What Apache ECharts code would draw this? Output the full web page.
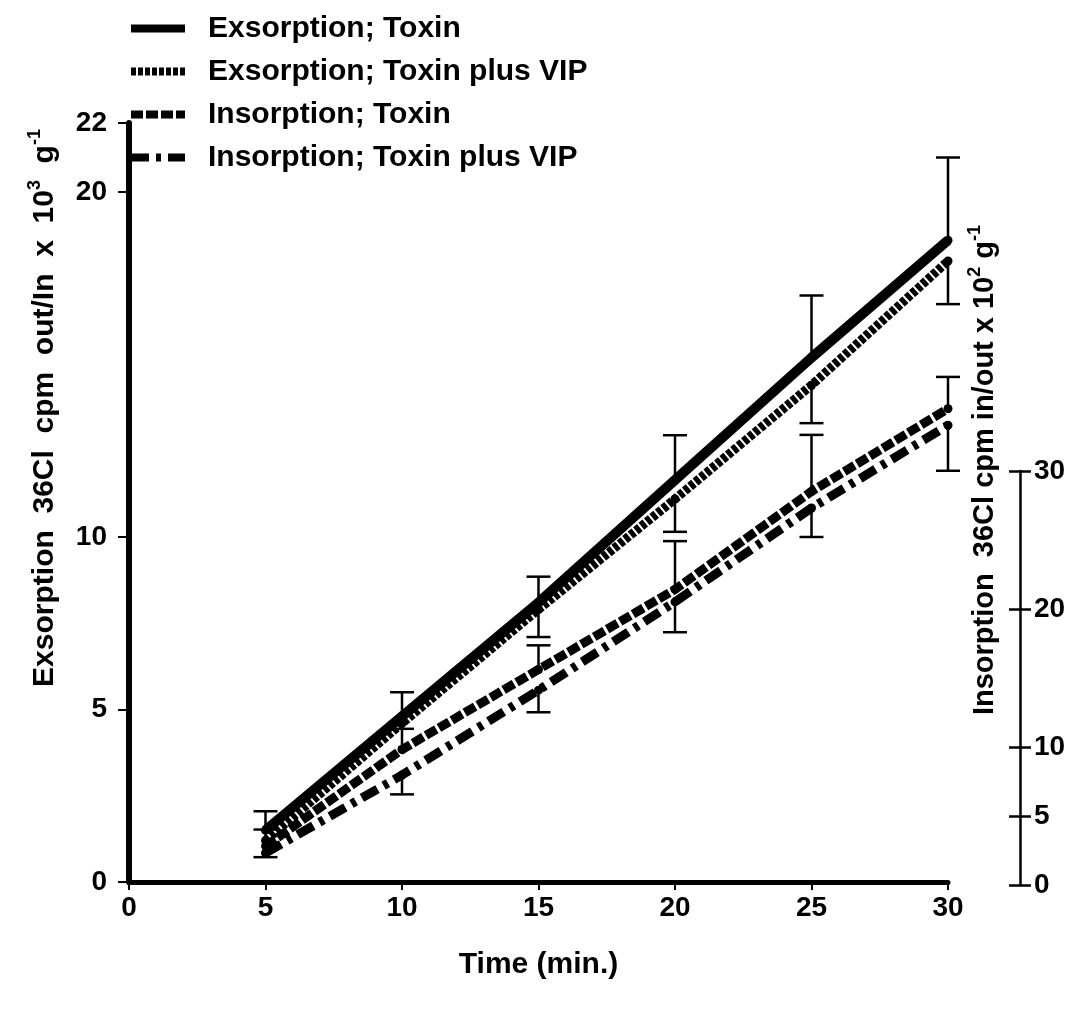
<!DOCTYPE html>
<html style="height: 100%">
<head>
    <meta charset="utf-8">
    <title>Exsorption / Insorption</title>
    <script type="text/javascript" src="https://cdn.jsdelivr.net/npm/echarts@6/dist/echarts.min.js"></script>
</head>
<body style="margin: 0; background: #fff">
<div id="container" style="width: 1084px; height: 1013px"></div>
<script type="application/javascript">

    // time points (min.)
    var times = [5, 10, 15, 20, 25, 30];

    // exsorption, left axis (x 10^3 g^-1)
    var exToxin = [1.5, 4.8, 8.1, 11.65, 15.2, 18.6];
    var exToxinErr = [0.55, 0.7, 0.75, 1.3, 1.8, 2.4];      // bars drawn upward
    var exVip = [1.2, 4.6, 7.9, 11.1, 14.4, 18.0];
    var exVipErr = [0, 0, 0.8, 0.95, 1.1, 1.25];            // bars drawn downward

    // insorption, right axis (x 10^2 g^-1)
    var inToxin = [2.6, 9.6, 15.4, 21.2, 28.3, 34.3];
    var inToxinErr = [1.2, 1.5, 1.75, 3.5, 4.1, 2.3];       // upward
    var inVip = [2.1, 7.75, 13.9, 20.3, 27.1, 33.1];
    var inVipErr = [0.3, 1.4, 1.6, 2.2, 2.1, 3.3];          // downward

    var xTicks = [0, 5, 10, 15, 20, 25, 30];
    var leftTicks = [0, 5, 10, 20, 22];
    var rightTicks = [0, 5, 10, 20, 30];

    var names = ['Exsorption; Toxin', 'Exsorption; Toxin plus VIP',
        'Insorption; Toxin', 'Insorption; Toxin plus VIP'];

    var font = 'Liberation Sans, Arial, sans-serif';

    function pairs(vals) {
        return times.map(function (t, i) { return [t, vals[i]]; });
    }

    function lineSeries(name, vals, yIndex, width, dash) {
        return {
            type: 'line', name: name, yAxisIndex: yIndex,
            data: pairs(vals),
            symbol: 'circle', symbolSize: 9,
            itemStyle: {color: '#000'},
            lineStyle: {color: '#000', width: width, type: dash},
            z: 2
        };
    }

    function errorSeries(vals, errs, dir, yIndex) {
        var data = times.map(function (t, i) { return [t, vals[i], vals[i] + dir * errs[i]]; });
        return {
            type: 'custom', name: 'err', yAxisIndex: yIndex, silent: true, z: 3,
            data: data,
            renderItem: function (params, api) {
                var p0 = api.coord([api.value(0), api.value(1)]);
                var p1 = api.coord([api.value(0), api.value(2)]);
                if (Math.abs(p1[1] - p0[1]) < 1) return;
                var h = 12;
                var st = {stroke: '#000', lineWidth: 2.5};
                return {
                    type: 'group', children: [
                        {type: 'line', shape: {x1: p0[0], y1: p0[1], x2: p1[0], y2: p1[1]}, style: st},
                        {type: 'line', shape: {x1: p1[0] - h, y1: p1[1], x2: p1[0] + h, y2: p1[1]}, style: st}
                    ]
                };
            }
        };
    }

    var labelStyle = {color: '#000', fontSize: 28, fontWeight: 'bold', fontFamily: font};
    function titleRich(size) {
        return {
            a: {fontSize: size, fontWeight: 'bold', fontFamily: font, color: '#000', lineHeight: 38},
            s: {fontSize: 18, fontWeight: 'bold', fontFamily: font, color: '#000', lineHeight: 18, verticalAlign: 'top'}
        };
    }

    var dom = document.getElementById("container");
    var myChart = echarts.init(dom);

    var option = {
        animation: false,
        backgroundColor: '#fff',
        legend: {
            orient: 'vertical', left: 122, top: 8,
            itemWidth: 54, itemHeight: 12, itemGap: 12,
            data: names,
            itemStyle: {opacity: 0},
            lineStyle: {width: 8},
            textStyle: {color: '#000', fontSize: 30, fontWeight: 'bold', fontFamily: font,
                lineHeight: 31, padding: [0, 0, 0, 18]}
        },
        grid: [
            {left: 129, top: 123, width: 819, height: 759},
            {left: 1020, top: 471, width: 1, height: 414}
        ],
        xAxis: [
            {
                gridIndex: 0, type: 'value', min: 0, max: 30, interval: 5,
                axisLine: {lineStyle: {color: '#000', width: 5}},
                axisTick: {length: 8, lineStyle: {color: '#000', width: 2}, customValues: xTicks},
                axisLabel: Object.assign({margin: 12, customValues: xTicks}, labelStyle),
                splitLine: {show: false},
                name: 'Time (min.)', nameLocation: 'middle', nameGap: 68,
                nameTextStyle: {color: '#000', fontSize: 30, fontWeight: 'bold', fontFamily: font}
            },
            {gridIndex: 1, type: 'value', min: 0, max: 1, show: false}
        ],
        yAxis: [
            {
                gridIndex: 0, type: 'value', min: 0, max: 22,
                axisLine: {show: true, lineStyle: {color: '#000', width: 6}},
                axisTick: {show: true, length: 11, lineStyle: {color: '#000', width: 2}, customValues: leftTicks},
                axisLabel: Object.assign({margin: 22, customValues: leftTicks}, labelStyle),
                splitLine: {show: false}
            },
            {
                // insorption scale, same pixels per unit as the drawn right axis
                gridIndex: 0, type: 'value', min: 0, max: 55, show: false
            },
            {
                gridIndex: 1, type: 'value', min: 0, max: 30, position: 'left',
                axisLine: {show: true, lineStyle: {color: '#000', width: 2.5}},
                axisTick: {show: true, length: 11, lineStyle: {color: '#000', width: 2.5}, customValues: rightTicks},
                axisLabel: Object.assign({inside: true, margin: 14, customValues: rightTicks}, labelStyle),
                splitLine: {show: false}
            },
            {
                gridIndex: 1, type: 'value', min: 0, max: 30, position: 'left',
                axisLine: {show: false},
                axisTick: {show: true, inside: true, length: 11, lineStyle: {color: '#000', width: 2.5}, customValues: rightTicks},
                axisLabel: {show: false},
                splitLine: {show: false}
            }
        ],
        graphic: [
            {
                type: 'text', x: 45, y: 408, rotation: Math.PI / 2,
                style: {
                    text: '{a|Exsorption  36Cl  cpm  out/In  x  10}{s|3}{a|  g}{s|-1}',
                    rich: titleRich(30), align: 'center', verticalAlign: 'middle'
                }
            },
            {
                type: 'text', x: 985, y: 470, rotation: Math.PI / 2,
                style: {
                    text: '{a|Insorption  36Cl cpm in/out x 10}{s|2}{a| g}{s|-1}',
                    rich: titleRich(29), align: 'center', verticalAlign: 'middle'
                }
            }
        ],
        series: [
            lineSeries(names[0], exToxin, 0, 10, 'solid'),
            lineSeries(names[1], exVip, 0, 9, [5, 2]),
            lineSeries(names[2], inToxin, 1, 9, [12, 3]),
            lineSeries(names[3], inVip, 1, 9, [18, 7, 5, 7]),
            errorSeries(exToxin, exToxinErr, 1, 0),
            errorSeries(exVip, exVipErr, -1, 0),
            errorSeries(inToxin, inToxinErr, 1, 1),
            errorSeries(inVip, inVipErr, -1, 1)
        ]
    };

    myChart.setOption(option);
</script>
</body>
</html>
